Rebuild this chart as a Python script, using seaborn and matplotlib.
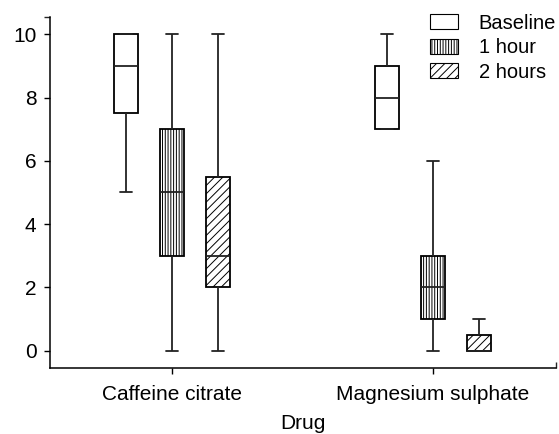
import pandas as pd
import matplotlib
matplotlib.use("Agg")
import matplotlib.pyplot as plt
import matplotlib.patches as mpatches
import seaborn as sns

# five-number summaries: min, q1, median, q3, max
drugs = ["Caffeine citrate", "Magnesium sulphate"]
times = ["Baseline", "1 hour", "2 hours"]
caffeine_baseline = [5, 7.5, 9, 10, 10]
caffeine_1h = [0, 3, 5, 7, 10]
caffeine_2h = [0, 2, 3, 5.5, 10]
magnesium_baseline = [7, 7, 8, 9, 10]
magnesium_1h = [0, 1, 2, 3, 6]
magnesium_2h = [0, 0, 0, 0.5, 1]

groups = {
    ("Caffeine citrate", "Baseline"): caffeine_baseline,
    ("Caffeine citrate", "1 hour"): caffeine_1h,
    ("Caffeine citrate", "2 hours"): caffeine_2h,
    ("Magnesium sulphate", "Baseline"): magnesium_baseline,
    ("Magnesium sulphate", "1 hour"): magnesium_1h,
    ("Magnesium sulphate", "2 hours"): magnesium_2h,
}
rows = []
for (drug, t), vals in groups.items():
    for v in vals:
        rows.append({"Drug": drug, "Time": t, "Score": v})
df = pd.DataFrame(rows)

sns.set_style("ticks")
plt.rcParams["font.family"] = ["Liberation Sans", "DejaVu Sans"]
plt.rcParams["hatch.linewidth"] = 0.7
plt.rcParams["text.color"] = "black"
plt.rcParams["axes.labelcolor"] = "black"
plt.rcParams["xtick.labelcolor"] = "black"
plt.rcParams["ytick.labelcolor"] = "black"

hatches = {"Baseline": "", "1 hour": "||||||", "2 hours": "////"}

fig = plt.figure(figsize=(5.59, 4.34), dpi=100)
ax = fig.add_axes([0.089, 0.152, 0.905, 0.809])

width = 0.53
sns.boxplot(data=df, x="Drug", y="Score", hue="Time", order=drugs,
            hue_order=times, palette=["white"] * 3, width=width, gap=0.48,
            whis=(0, 100), linecolor="black", linewidth=1.3,
            showfliers=False, legend=False, ax=ax)

# apply hatching by box position within its group
slot = width / 3
for p in ax.patches:
    verts = p.get_path().vertices
    cx = (verts[:, 0].min() + verts[:, 0].max()) / 2
    k = int(round((cx - round(cx)) / slot)) + 1
    p.set_hatch(hatches[times[k]])
    p.set_edgecolor("black")

for ln in ax.lines:
    ln.set_color("#222222")

ax.set_xlim(-0.47, 1.47)
ax.set_ylim(-0.55, 10.55)
ax.set_yticks([0, 2, 4, 6, 8, 10])
ax.set_xlabel("Drug", fontsize=15, labelpad=7)
ax.set_ylabel("")
ax.tick_params(labelsize=15, length=4.5, color="black", width=1)
ax.tick_params(axis="x", pad=8)
ax.tick_params(axis="y", pad=5)
# small end ticks on the axis lines
ax.set_xticks([1.47], minor=True)
ax.set_yticks([10.55], minor=True)
ax.tick_params(axis="x", which="minor", direction="in", length=4, width=1)
ax.tick_params(axis="y", which="minor", direction="out", length=4, width=1)
for s in ["left", "bottom"]:
    ax.spines[s].set_linewidth(1.1)
    ax.spines[s].set_color("black")
sns.despine(ax=ax)

handles = [mpatches.Patch(facecolor="white", edgecolor="black",
                          hatch=hatches[t], label=t, linewidth=0.8)
           for t in times]
ax.legend(handles=handles, loc="upper left", bbox_to_anchor=(0.752, 1.009),
          frameon=False, fontsize=14.5, handlelength=1.4, handleheight=0.75,
          handletextpad=1.0, labelspacing=0.27, borderpad=0,
          borderaxespad=0)

fig.savefig("out.png", dpi=100)
